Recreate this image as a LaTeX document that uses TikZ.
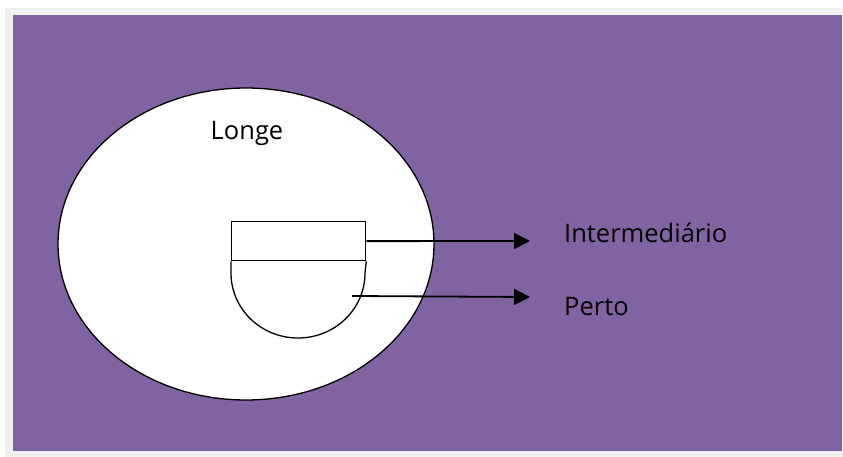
\documentclass[tikz,border=0pt]{standalone}
\usepackage{fontspec}
\setmainfont{Open Sans}
\usetikzlibrary{arrows.meta,shapes.geometric}
\definecolor{bgpurple}{HTML}{8064A2}
\definecolor{framegray}{HTML}{F0F0F0}
\tikzset{
  zone/.style={draw=black, fill=white, line width=1.3pt},
  pointer/.style={draw=black, line width=1.8pt, -{Triangle[length=16pt,width=16pt]}},
  lbl/.style={inner sep=0pt, font=\fontsize{25.5}{30}\selectfont, text=black}
}
\begin{document}
\begin{tikzpicture}[x=1pt,y=-1pt]
\useasboundingbox (0,0) rectangle (843,457);
\fill[white] (0,0) rectangle (843,457);
\fill[framegray] (5,8) rectangle (843,457);
\fill[bgpurple] (13,15) rectangle (842,451);
% outer circle
\node[zone, ellipse, inner sep=0pt, minimum width=376pt, minimum height=312pt] (far) at (246,244) {};
\node[lbl, anchor=base] (longe) at (247,140) {Longe};
% cup shape
\node[zone, rectangle, inner sep=0pt, minimum width=134pt, minimum height=39pt, anchor=north west] (mid) at (231,221) {};
\draw[zone] (mid.south west) -- (231,273) .. controls (231,309) and (261,338) .. (298,338) .. controls (335,338) and (365,309) .. (365,273) -- (mid.south east);
\coordinate (near) at (352,296);
% labels
\node[lbl, anchor=base west] (inter) at (564,242) {Intermediário};
\node[lbl, anchor=base west] (perto) at (564,315) {Perto};
\coordinate (e1) at (530,241);
\coordinate (e2) at (530,297);
\draw[pointer] (mid.east) -- (e1);
\draw[pointer] (near) -- (e2);
\end{tikzpicture}
\end{document}
